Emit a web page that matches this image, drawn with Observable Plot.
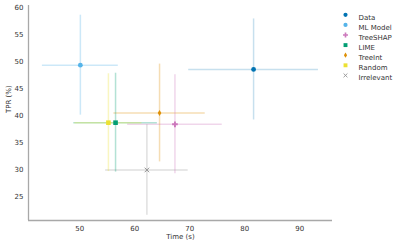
<!DOCTYPE html>
<html><head><meta charset="utf-8">
<script src="https://cdn.jsdelivr.net/npm/d3@7"></script>
<script src="https://cdn.jsdelivr.net/npm/@observablehq/plot@0.6"></script>
<style>body{margin:0;background:#fff}</style>
</head><body><div id="chart"></div>
<script>
const methods = ["Data","ML Model","TreeSHAP","LIME","TreeInt","Random","Irrelevant"];
const timeMean = [81.6, 50.1, 67.3, 56.5, 64.5, 55.2, 62.2];
const timeErr  = [11.8, 6.9, 8.6, 7.6, 8.3, 6.1, 7.5];
const tprMean  = [48.6, 49.4, 38.4, 38.7, 40.5, 38.7, 29.9];
const tprErr   = [9.4, 9.3, 9.2, 9.2, 9.1, 9.1, 8.4];
const colors   = ["#0173b2","#56b4e9","#cc78bc","#029e73","#de8f05","#ece133","#949494"];
const xTicks = [50, 60, 70, 80, 90];
const yTicks = [25, 30, 35, 40, 45, 50, 55, 60];
const xDomain = [40.67, 95.95];
const yDomain = [20.5, 60.5];

const thinDiamond = {draw(ctx, size){ const s = Math.sqrt(size/Math.PI); ctx.moveTo(0,-s*1.25); ctx.lineTo(s*0.75,0); ctx.lineTo(0,s*1.25); ctx.lineTo(-s*0.75,0); ctx.closePath(); }};
const symbols = ["circle","circle","cross","square", thinDiamond, "square","times"];

const data = methods.map((m,i)=>({m, t:timeMean[i], te:timeErr[i], p:tprMean[i], pe:tprErr[i], c:colors[i], s:symbols[i], i}));
const barOpacity = [0.22,0.3,0.3,0.3,0.3,0.3,0.3];

const marks = [
  Plot.ruleY(data, {y:"p", x1:d=>d.t-d.te, x2:d=>d.t+d.te, stroke:d=>d.c, strokeOpacity:d=>barOpacity[d.i], strokeWidth:1.5}),
  Plot.ruleX(data, {x:"t", y1:d=>d.p-d.pe, y2:d=>d.p+d.pe, stroke:d=>d.c, strokeOpacity:d=>barOpacity[d.i], strokeWidth:1.5}),
  Plot.ruleX([xDomain[0]], {stroke:"#a8a8a8", strokeWidth:1.3}),
  Plot.ruleY([yDomain[0]], {stroke:"#a8a8a8", strokeWidth:1.3}),
  Plot.axisX(xTicks, {tickSize:0, tickPadding:6, fontSize:7, fill:"#333", label:null}),
  Plot.axisY(yTicks, {tickSize:0, tickPadding:5, fontSize:7, fill:"#333", label:null}),
  Plot.text(["Time (s)"], {frameAnchor:"bottom", dy:18, fontSize:7, fill:"#333"}),
  Plot.text(["TPR (%)"], {frameAnchor:"left", dx:-19.5, rotate:-90, fontSize:7, fill:"#333"})
];
data.forEach(d=>{
  if (d.s === "times") marks.push(Plot.dot([d], {x:"t", y:"p", symbol:"times", stroke:d.c, r:2.2, strokeWidth:1}));
  else marks.push(Plot.dot([d], {x:"t", y:"p", symbol:d.s, fill:d.c, r:d.s==="square"?2.6:2.4}));
});
methods.forEach((m,i)=>{
  const dy = 9.3 + i*10.1;
  const s = symbols[i];
  if (s === "times") marks.push(Plot.dot([m], {frameAnchor:"top-left", dx:317, dy, symbol:"times", stroke:colors[i], r:1.9, strokeWidth:0.9}));
  else marks.push(Plot.dot([m], {frameAnchor:"top-left", dx:317, dy, symbol:s, fill:colors[i], r:s==="square"?2.2:2.1}));
  marks.push(Plot.text([m], {frameAnchor:"top-left", dx:330, dy, text:d=>d, textAnchor:"start", fontSize:7, fill:"#333"}));
});

const chart = Plot.plot({
  width:399, height:247,
  marginLeft:28, marginRight:67, marginTop:5, marginBottom:27,
  style:{fontFamily:"DejaVu Sans", background:"#fff", overflow:"visible"},
  x:{domain:xDomain},
  y:{domain:yDomain},
  marks
});
document.getElementById("chart").append(chart);
</script>
</body></html>
